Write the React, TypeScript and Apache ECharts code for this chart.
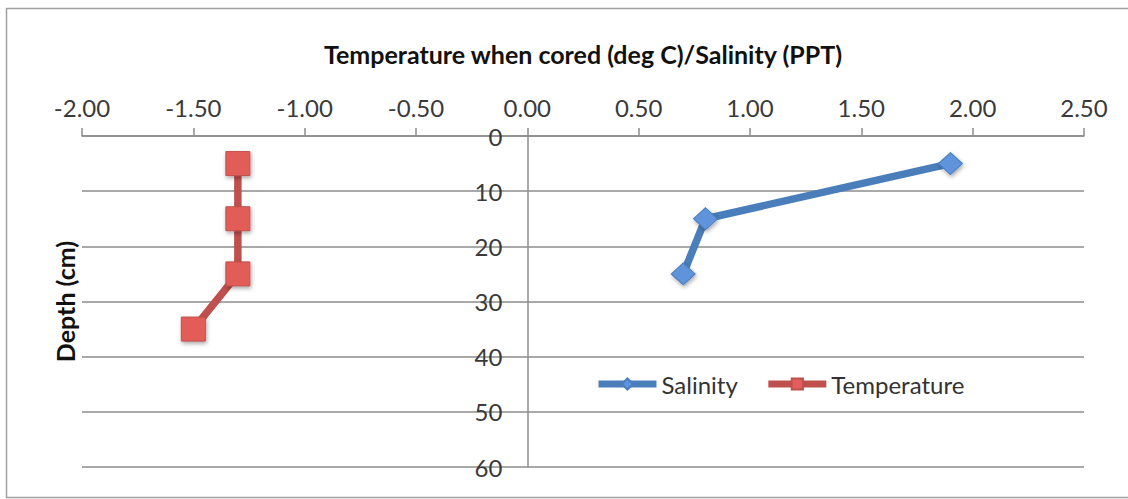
import React, { useEffect, useRef } from "react";
import * as echarts from "echarts";

const depths = [5, 15, 25, 35];
const salinity = [1.9, 0.8, 0.7];
const temperature = [-1.3, -1.3, -1.3, -1.5];
const xTitle = "Temperature when cored (deg C)/Salinity (PPT)";
const yTitle = "Depth (cm)";
const xMin = -2;
const xMax = 2.5;
const xStep = 0.5;
const yMin = 0;
const yMax = 60;
const yStep = 10;
const FONT = "Lato, 'Open Sans', sans-serif";

const W = 1128;
const H = 499;
const GRID_LEFT = 82;
const GRID_RIGHT = 44;
const GRID_TOP = 136;
const GRID_BOTTOM = 32;

export default function App() {
  const ref = useRef<HTMLDivElement>(null);
  useEffect(() => {
    if (!ref.current) return;
    const chart = echarts.init(ref.current, null, { renderer: "svg" });
    const gridW = W - GRID_LEFT - GRID_RIGHT;
    const zeroShift = (gridW * (0 - xMin)) / (xMax - xMin);
    const markerShadow = {
      shadowBlur: 4,
      shadowColor: "rgba(0,0,0,0.35)",
      shadowOffsetX: 1,
      shadowOffsetY: 2,
    };
    chart.setOption({
      animation: false,
      backgroundColor: "#ffffff",
      textStyle: { fontFamily: FONT },
      graphic: [
        {
          type: "rect",
          shape: { x: 6.5, y: 8.5, width: 1130, height: 489 },
          style: { fill: "none", stroke: "#a0a0a0", lineWidth: 1.5 },
          silent: true,
          z: 0,
        },
        {
          type: "text",
          x: 65,
          y: (GRID_TOP + (H - GRID_BOTTOM)) / 2,
          rotation: Math.PI / 2,
          style: {
            text: yTitle,
            align: "center",
            verticalAlign: "middle",
            fontFamily: FONT,
            fontSize: 25,
            fontWeight: "bold",
            fill: "#111",
          },
          silent: true,
        },
      ],
      grid: { left: GRID_LEFT, right: GRID_RIGHT, top: GRID_TOP, bottom: GRID_BOTTOM, containLabel: false },
      legend: {
        left: 590,
        top: 367,
        itemWidth: 58,
        itemHeight: 14,
        itemGap: 27,
        lineStyle: { width: 7 },
        textStyle: { fontFamily: FONT, fontSize: 24, color: "#333" },
        data: ["Salinity", "Temperature"],
      },
      xAxis: {
        type: "value",
        position: "top",
        min: xMin,
        max: xMax,
        interval: xStep,
        name: xTitle,
        nameLocation: "middle",
        nameGap: 70,
        nameTextStyle: { fontFamily: FONT, fontSize: 25, fontWeight: "bold", color: "#111" },
        axisLine: { show: true, onZero: false, lineStyle: { color: "#8c8c8c", width: 1.5 } },
        axisTick: { show: true, inside: false, length: 8, lineStyle: { color: "#8c8c8c", width: 1.5 } },
        axisLabel: {
          margin: 17,
          fontSize: 24,
          color: "#3a3a3a",
          fontFamily: FONT,
          formatter: (v: number) => v.toFixed(2),
        },
        splitLine: { show: false },
      },
      yAxis: {
        type: "value",
        inverse: true,
        position: "left",
        offset: -zeroShift,
        min: yMin,
        max: yMax,
        interval: yStep,
        axisLine: { show: true, onZero: false, lineStyle: { color: "#8c8c8c", width: 1.5 } },
        axisTick: { show: false },
        axisLabel: {
          margin: 25,
          fontSize: 24,
          color: "#3a3a3a",
          fontFamily: FONT,
          padding: [6, 0, 0, 0],
        },
        splitLine: { show: true, lineStyle: { color: "#8c8c8c", width: 1.5 } },
      },
      series: [
        {
          name: "Salinity",
          type: "line",
          data: salinity.map((v, i) => [v, depths[i]]),
          symbol: "diamond",
          symbolSize: [24, 22],
          color: "#4a7ebb",
          lineStyle: { color: "#4a7ebb", width: 7.5 },
          itemStyle: { color: "#5f93dc", borderColor: "#4a7ebb", borderWidth: 1, ...markerShadow },
          z: 3,
        },
        {
          name: "Temperature",
          type: "line",
          data: temperature.map((v, i) => [v, depths[i]]),
          symbol: "rect",
          symbolSize: 24,
          color: "#c0504d",
          lineStyle: { color: "#c0504d", width: 7.5 },
          itemStyle: { color: "#e35d59", borderColor: "#c0504d", borderWidth: 1, ...markerShadow },
          z: 3,
        },
      ],
    });
    return () => chart.dispose();
  }, []);
  return (
    <div
      ref={ref}
      style={{ position: "fixed", left: 0, top: 0, width: W, height: H }}
    />
  );
}
